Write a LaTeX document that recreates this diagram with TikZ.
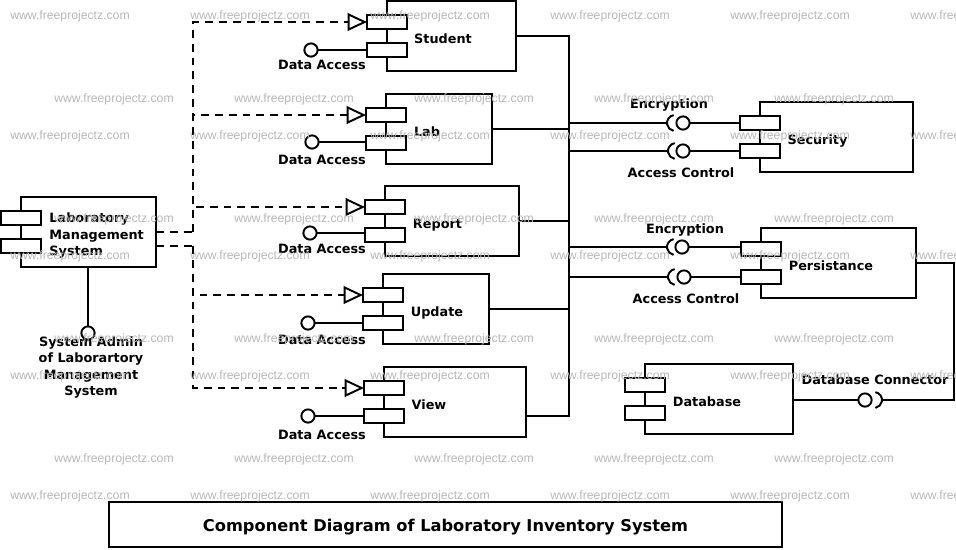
\documentclass[tikz,border=0pt]{standalone}
\usepackage{fontspec}
\setmainfont{DejaVu Sans}
\newfontfamily\wmfont{Liberation Sans}
\usetikzlibrary{arrows.meta}
\tikzset{
  compbox/.style={draw,rectangle,inner sep=0pt,outer sep=0pt,fill=white,minimum height=1.4cm},
  portbox/.style={draw,rectangle,inner sep=0pt,outer sep=0pt,fill=white,minimum width=0.8cm,minimum height=0.28cm},
  lolly/.style={draw,circle,inner sep=0pt,outer sep=0pt,fill=white,minimum size=0.265cm},
  socket/.style={circle,inner sep=0pt,outer sep=0pt,minimum size=0.32cm},
  lbl/.style={inner sep=0pt,align=center,yshift=-0.5pt},
  realize/.style={dashed,dash pattern=on 4.5pt off 3.4pt,-{Triangle[open,length=11pt,width=10pt]}},
  depline/.style={dashed,dash pattern=on 4.5pt off 3.4pt},
  wmark/.style={inner sep=0pt,yshift=-0.5pt,text=black!28,font=\wmfont\fontsize{6.95}{8}\selectfont}
}
\begin{document}
\begin{tikzpicture}[x=0.02cm,y=-0.02cm,line width=1.1pt,line join=miter,font=\fontsize{7.3}{9.35}\bfseries\selectfont]
  \useasboundingbox (0,0) rectangle (956,549);
  % components on the left
  \node[compbox,minimum width=2.58cm] (student) at (451.5,36) {};
  \node[portbox] (studentpa) at (387,22) {};
  \node[portbox] (studentpb) at (387,50) {};
  \node[lolly] (studentc) at (311,50) {};
  \node[lbl] (studentl) at (443,38) {Student};
  \node[lbl] (studentd) at (322,64) {Data Access};

  \node[compbox,minimum width=2.12cm] (lab) at (439,129) {};
  \node[portbox] (labpa) at (386,115) {};
  \node[portbox] (labpb) at (386,143) {};
  \node[lolly] (labc) at (312,142) {};
  \node[lbl] (labl) at (427,131) {Lab};
  \node[lbl] (labd) at (322,159.5) {Data Access};

  \node[compbox,minimum width=2.68cm] (report) at (452,221) {};
  \node[portbox] (reportpa) at (385,207) {};
  \node[portbox] (reportpb) at (385,235) {};
  \node[lolly] (reportc) at (310,233) {};
  \node[lbl] (reportl) at (437.5,224) {Report};
  \node[lbl] (reportd) at (322,248) {Data Access};

  \node[compbox,minimum width=2.12cm] (update) at (436,309) {};
  \node[portbox] (updatepa) at (383,295) {};
  \node[portbox] (updatepb) at (383,323) {};
  \node[lolly] (updatec) at (308,323) {};
  \node[lbl] (updatel) at (437,312) {Update};
  \node[lbl] (updated) at (322,339) {Data Access};

  \node[compbox,minimum width=2.84cm] (view) at (455,402) {};
  \node[portbox] (viewpa) at (384,388) {};
  \node[portbox] (viewpb) at (384,416) {};
  \node[lolly] (viewc) at (308,416) {};
  \node[lbl] (viewl) at (429,404) {View};
  \node[lbl] (viewd) at (322,434) {Data Access};

  % system on the far left
  \node[compbox,minimum width=2.7cm] (lms) at (88.5,232) {};
  \node[portbox] (lmspa) at (21,218) {};
  \node[portbox] (lmspb) at (21,246) {};
  \node[lolly] (lmsc) at (88,333) {};
  \node[lbl,align=left,anchor=west] (lmsl) at (48.5,235) {Laboratory\\Management\\System};
  \node[lbl] (lmsd) at (91,366.5) {System Admin\\of Laborartory\\Management\\System};
  \draw (lmsc.north) -- (lmsc.north |- lms.south);

  % services on the right
  \node[compbox,minimum width=3.06cm] (security) at (836.5,137) {};
  \node[portbox] (securitypa) at (760,123) {};
  \node[portbox] (securitypb) at (760,151) {};
  \node[lolly] (secencc) at (683,123) {};
  \node[lolly] (secaccc) at (683,151) {};
  \node[socket] (secencs) at (675,123) {};
  \node[socket] (secaccs) at (676,151) {};
  \node[lbl] (securityl) at (817.5,140) {Security};
  \node[lbl] (secencl) at (669,104) {Encryption};
  \node[lbl] (secaccl) at (681,172) {Access Control};

  \node[compbox,minimum width=3.1cm] (persist) at (838.5,263) {};
  \node[portbox] (persistpa) at (761,249) {};
  \node[portbox] (persistpb) at (761,277) {};
  \node[lolly] (perencc) at (682,247) {};
  \node[lolly] (peraccc) at (684,277) {};
  \node[socket] (perencs) at (675,247) {};
  \node[socket] (peraccs) at (676,277) {};
  \node[lbl] (persistl) at (831,265) {Persistance};
  \node[lbl] (perencl) at (685,229) {Encryption};
  \node[lbl] (peraccl) at (686,298) {Access Control};

  \node[compbox,minimum width=2.96cm] (database) at (719,399) {};
  \node[portbox] (databasepa) at (645,385) {};
  \node[portbox] (databasepb) at (645,413) {};
  \node[lolly] (dbc) at (865,400) {};
  \node[socket] (dbs) at (874,400) {};
  \node[lbl] (databasel) at (707,401) {Database};
  \node[lbl] (dbl) at (875,378.5) {Database Connector};

  % dashed links from the system
  \coordinate (dashup) at (193,232);
  \coordinate (dashdown) at (193,246);
  \draw[depline] (lms.east |- dashup) -- (dashup);
  \draw[depline] (lms.east |- dashdown) -- (dashdown);
  \foreach \p in {studentpa,labpa,reportpa} \draw[realize] (dashup) |- (\p.west);
  \foreach \p in {updatepa,viewpa} \draw[realize] (dashdown) |- (\p.west);

  % solid bus
  \coordinate (bustop) at (569,36);
  \coordinate (busbot) at (569,416);
  \coordinate (dbcorner) at (954,400);
  \draw (student.east) -- (bustop) -- (busbot) -- (viewpb.east -| view.east);
  \foreach \c in {lab,report,update} \draw (\c.east) -- (\c.east -| bustop);
  \foreach \s in {secencs,secaccs,perencs,peraccs} \draw (bustop |- \s.west) -- (\s.west);

  % lollipops to ports
  \foreach \c/\p in {studentc/studentpb,labc/labpb,reportc/reportpb,updatec/updatepb,viewc/viewpb}
    \draw (\c.east) -- (\c.east -| \p.west);
  \foreach \c/\p in {secencc/securitypa,secaccc/securitypb,perencc/persistpa,peraccc/persistpb}
    \draw (\c.east) -- (\c.east -| \p.west);

  % sockets
  \foreach \s in {secencs,secaccs,perencs,peraccs}
    \draw (\s.100) arc[start angle=100,end angle=260,radius=0.16cm];
  \draw (dbs.80) arc[start angle=80,end angle=-80,radius=0.16cm];

  % database connection
  \draw (dbc.west) -- (dbc.west -| database.east);
  \draw (persist.east) -| (dbcorner) -- (dbs.east);

  % title
  \node[draw,rectangle,inner sep=0pt,outer sep=0pt,minimum width=13.46cm,minimum height=0.9cm,text depth=0pt,font=\fontsize{9.24}{11}\bfseries\selectfont] (title) at (445.5,524.5) {\raisebox{-0.6pt}{Component Diagram of Laboratory Inventory System}};

  % watermark rows
  \foreach \y in {15,135,255,375,495}
    \foreach \x in {70,250,430,610,790,970}
      \node[wmark] (wma\x\y) at (\x,\y) {www.freeprojectz.com};
  \foreach \y in {98,218,338,458}
    \foreach \x in {114,294,474,654,834}
      \node[wmark] (wmb\x\y) at (\x,\y) {www.freeprojectz.com};
\end{tikzpicture}
\end{document}
